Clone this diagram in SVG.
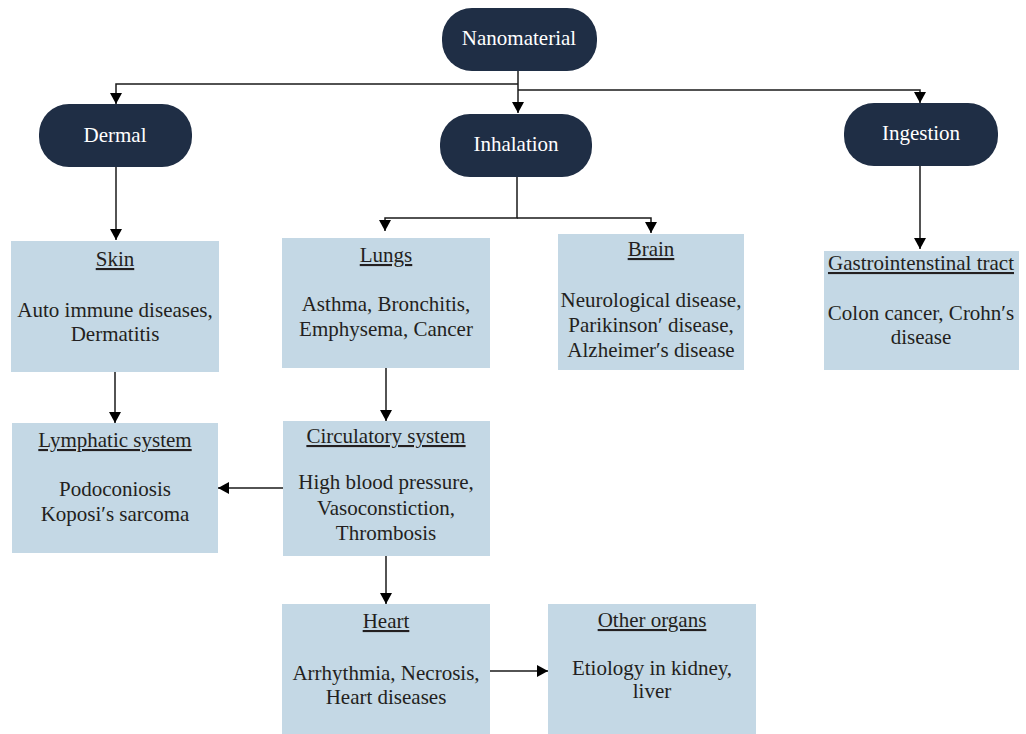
<svg xmlns="http://www.w3.org/2000/svg" width="1026" height="734" viewBox="0 0 1026 734">
<style>
.pill{fill:#1f2e45}
.box{fill:#c4d8e5}
.pt{font-family:"Liberation Serif",serif;font-size:21px;fill:#ffffff;text-anchor:middle}
.t{font-family:"Liberation Serif",serif;font-size:21px;fill:#231f20;text-anchor:middle}
.h{text-decoration:underline}
.c{fill:none;stroke:#1a1a1a;stroke-width:1.5}
</style>
<defs>
<marker id="ah" markerUnits="userSpaceOnUse" markerWidth="12" markerHeight="12" refX="11" refY="6" orient="auto">
<path d="M0,0 L11,6 L0,12 z" fill="#000"/>
</marker>
</defs>
<rect width="1026" height="734" fill="#ffffff"/>
<g id="connectors">
<path class="c" d="M518,70 V113" marker-end="url(#ah)"/>
<path class="c" d="M518,84 H116 V104" marker-end="url(#ah)"/>
<path class="c" d="M518,90 H920 V103" marker-end="url(#ah)"/>
<path class="c" d="M116,167 V240" marker-end="url(#ah)"/>
<path class="c" d="M920,166 V249" marker-end="url(#ah)"/>
<path class="c" d="M517,177 V218 H385 V231" marker-end="url(#ah)"/>
<path class="c" d="M517,218 H651 V233" marker-end="url(#ah)"/>
<path class="c" d="M115,372 V423" marker-end="url(#ah)"/>
<path class="c" d="M386,368 V421" marker-end="url(#ah)"/>
<path class="c" d="M283,488 H218" marker-end="url(#ah)"/>
<path class="c" d="M386,556 V604" marker-end="url(#ah)"/>
<path class="c" d="M490,671 H548" marker-end="url(#ah)"/>
</g>
<g id="nanomaterial">
<rect class="pill" x="442" y="8" width="155" height="63" rx="30" ry="30"/>
<text class="pt" x="519" y="45">Nanomaterial</text>
</g>
<g id="dermal">
<rect class="pill" x="39" y="104" width="153" height="63" rx="30" ry="30"/>
<text class="pt" x="115" y="142">Dermal</text>
</g>
<g id="inhalation">
<rect class="pill" x="440" y="114" width="152" height="63" rx="30" ry="30"/>
<text class="pt" x="516" y="151">Inhalation</text>
</g>
<g id="ingestion">
<rect class="pill" x="844" y="103" width="154" height="63" rx="30" ry="30"/>
<text class="pt" x="921" y="140">Ingestion</text>
</g>
<g id="skin">
<rect class="box" x="11" y="241" width="208" height="131"/>
<text class="t h" x="115" y="266">Skin</text>
<text class="t" x="115" y="317">Auto immune diseases,</text>
<text class="t" x="115" y="341">Dermatitis</text>
</g>
<g id="lungs">
<rect class="box" x="282" y="238" width="208" height="130"/>
<text class="t h" x="386" y="262">Lungs</text>
<text class="t" x="386" y="311">Asthma, Bronchitis,</text>
<text class="t" x="386" y="336">Emphysema, Cancer</text>
</g>
<g id="brain">
<rect class="box" x="558" y="234" width="186" height="136"/>
<text class="t h" x="651" y="256">Brain</text>
<text class="t" x="651" y="307">Neurological disease,</text>
<text class="t" x="651" y="332">Parikinson′ disease,</text>
<text class="t" x="651" y="357">Alzheimer′s disease</text>
</g>
<g id="gastro">
<rect class="box" x="824" y="251" width="195" height="119"/>
<text class="t h" x="921" y="270">Gastrointenstinal tract</text>
<text class="t" x="921" y="320">Colon cancer, Crohn′s</text>
<text class="t" x="921" y="344">disease</text>
</g>
<g id="lymphatic">
<rect class="box" x="12" y="423" width="206" height="130"/>
<text class="t h" x="115" y="447">Lymphatic system</text>
<text class="t" x="115" y="496">Podoconiosis</text>
<text class="t" x="115" y="521">Koposi′s sarcoma</text>
</g>
<g id="circulatory">
<rect class="box" x="283" y="421" width="207" height="135"/>
<text class="t h" x="386" y="443">Circulatory system</text>
<text class="t" x="386" y="489">High blood pressure,</text>
<text class="t" x="386" y="515">Vasoconstiction,</text>
<text class="t" x="386" y="540">Thrombosis</text>
</g>
<g id="heart">
<rect class="box" x="282" y="604" width="208" height="130"/>
<text class="t h" x="386" y="628">Heart</text>
<text class="t" x="386" y="680">Arrhythmia, Necrosis,</text>
<text class="t" x="386" y="704">Heart diseases</text>
</g>
<g id="other">
<rect class="box" x="548" y="604" width="208" height="130"/>
<text class="t h" x="652" y="627">Other organs</text>
<text class="t" x="652" y="675">Etiology in kidney,</text>
<text class="t" x="652" y="698">liver</text>
</g>
</svg>
